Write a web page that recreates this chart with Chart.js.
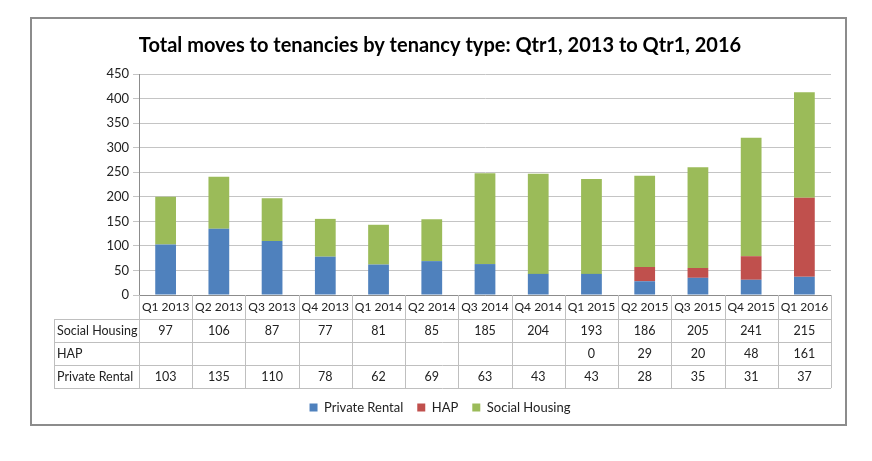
<!DOCTYPE html>
<html>
<head>
<meta charset="utf-8">
<script src="https://cdn.jsdelivr.net/npm/chart.js@4"></script>
<style>
  html, body { margin: 0; padding: 0; background: #fff; }
  #wrap { width: 872px; height: 461px; }
</style>
</head>
<body>
<div id="wrap"><canvas id="myChart" width="872" height="461"></canvas></div>
<script>
const quarters = ['Q1 2013', 'Q2 2013', 'Q3 2013', 'Q4 2013', 'Q1 2014', 'Q2 2014', 'Q3 2014',
    'Q4 2014', 'Q1 2015', 'Q2 2015', 'Q3 2015', 'Q4 2015', 'Q1 2016'];
const privateRental = [103, 135, 110, 78, 62, 69, 63, 43, 43, 28, 35, 31, 37];
const hap = [null, null, null, null, null, null, null, null, 0, 29, 20, 48, 161];
const socialHousing = [97, 106, 87, 77, 81, 85, 185, 204, 193, 186, 205, 241, 215];
const yTicks = [0, 50, 100, 150, 200, 250, 300, 350, 400, 450];

const FONT = 'Lato, "Open Sans", sans-serif';
const tableRows = [
    ['Social Housing', socialHousing],
    ['HAP', hap],
    ['Private Rental', privateRental]
];

// frame round the whole chart
const framePlugin = {
    id: 'frame',
    beforeDraw(chart) {
        const c = chart.ctx;
        c.save();
        c.fillStyle = '#fff';
        c.fillRect(0, 0, chart.width, chart.height);
        c.strokeStyle = '#8c8c8c';
        c.lineWidth = 2;
        c.strokeRect(31, 18, 815, 407);
        c.restore();
    }
};

// data table under the x axis
const tablePlugin = {
    id: 'dataTable',
    afterDraw(chart) {
        const c = chart.ctx;
        const x = chart.scales.x;
        const area = chart.chartArea;
        const left = 54;
        const top = area.bottom;
        const rowH = 23;
        const headH = 24;
        const step = (area.right - area.left) / quarters.length;
        c.save();
        c.strokeStyle = '#bfbfbf';
        c.lineWidth = 1;
        c.beginPath();
        // vertical lines
        for (let i = 0; i <= quarters.length; i++) {
            const px = Math.round(area.left + i * step) + 0.5;
            c.moveTo(px, top);
            c.lineTo(px, top + headH + rowH * 3);
        }
        c.moveTo(left + 0.5, top + headH);
        c.lineTo(left + 0.5, top + headH + rowH * 3);
        // horizontal lines
        for (let r = 0; r <= 3; r++) {
            const py = Math.round(top + headH + r * rowH) + 0.5;
            c.moveTo(left, py);
            c.lineTo(area.right, py);
        }
        c.stroke();

        c.fillStyle = '#222';
        c.font = '12.5px ' + FONT;
        c.textBaseline = 'middle';
        for (let r = 0; r < tableRows.length; r++) {
            const cy = top + headH + r * rowH + rowH / 2;
            c.textAlign = 'left';
            c.fillText(tableRows[r][0], left + 3, cy);
            c.textAlign = 'center';
            const vals = tableRows[r][1];
            for (let i = 0; i < vals.length; i++) {
                if (vals[i] === null) continue;
                c.fillText(String(vals[i]), x.getPixelForValue(i), cy);
            }
        }
        c.restore();
    }
};

new Chart(document.getElementById('myChart'), {
    type: 'bar',
    data: {
        labels: quarters,
        datasets: [
            { label: 'Private Rental', data: privateRental, backgroundColor: '#4f81bd' },
            { label: 'HAP', data: hap, backgroundColor: '#c0504d' },
            { label: 'Social Housing', data: socialHousing, backgroundColor: '#9bbb59' }
        ]
    },
    options: {
        responsive: false,
        animation: false,
        devicePixelRatio: 1,
        layout: { padding: { left: 49, right: 41, top: 0, bottom: 37 } },
        datasets: { bar: { categoryPercentage: 1, barPercentage: 0.39 } },
        plugins: {
            title: {
                display: true,
                text: 'Total moves to tenancies by tenancy type: Qtr1, 2013 to Qtr1, 2016',
                color: '#000',
                font: { family: FONT, size: 20, weight: 'bold' },
                padding: { top: 34, bottom: 16 }
            },
            legend: {
                position: 'bottom',
                labels: {
                    boxWidth: 8,
                    boxHeight: 8,
                    padding: 14,
                    color: '#222',
                    font: { family: FONT, size: 13 }
                }
            },
            tooltip: { enabled: false }
        },
        scales: {
            x: {
                stacked: true,
                grid: { display: false, drawTicks: false },
                border: { display: true, color: '#8c8c8c' },
                ticks: { color: '#222', font: { family: FONT, size: 12 }, padding: 5, maxRotation: 0, autoSkip: false },
                afterFit(scale) { scale.height = 92; }
            },
            y: {
                stacked: true,
                min: 0,
                max: 450,
                afterBuildTicks(scale) { scale.ticks = yTicks.map(v => ({ value: v })); },
                grid: { color: '#c4c4c4', lineWidth: 1, tickLength: 6 },
                border: { display: true, color: '#8c8c8c' },
                ticks: { color: '#222', font: { family: FONT, size: 13 }, padding: 4 },
                afterFit(scale) { scale.width = 90; }
            }
        }
    },
    plugins: [framePlugin, tablePlugin]
});
</script>
</body>
</html>
